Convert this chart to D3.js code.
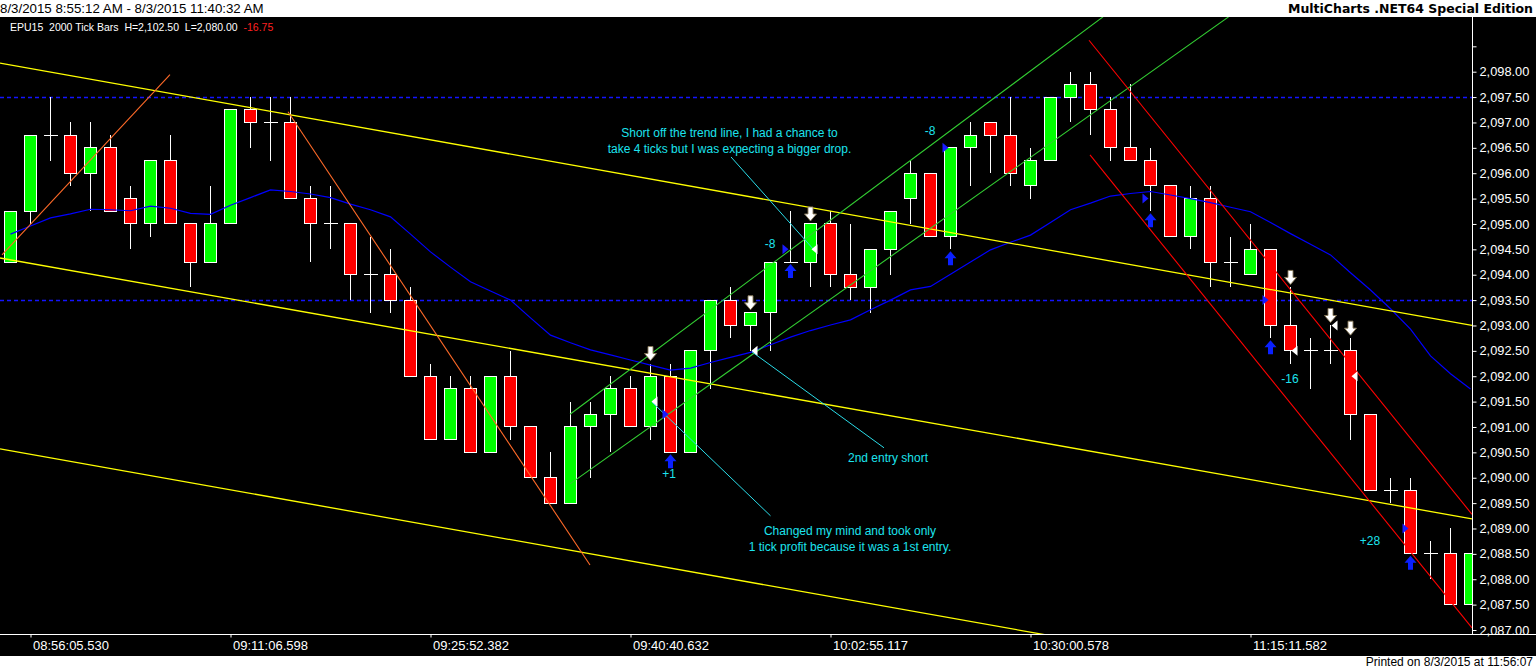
<!DOCTYPE html>
<html>
<head>
<meta charset="utf-8">
<script src="https://cdn.jsdelivr.net/npm/d3@7/dist/d3.min.js"></script>
<style>
  html, body { margin: 0; padding: 0; background: #fff; overflow: hidden; }
  svg { display: block; }
  text { font-family: 'Liberation Sans', Arial, sans-serif; }
</style>
</head>
<body>
<svg id="chart"></svg>
<script>
'use strict'

const W = 1536, H = 670
const plot = { left: 0, right: 1472, top: 17, bottom: 634 }

// time axis: bar index of each tick and its label
const timeTicks = [1, 11, 21, 31, 41, 51, 62]
const timeLabels = ['08:56:05.530', '09:11:06.598', '09:25:52.382', '09:40:40.632',
  '10:02:55.117', '10:30:00.578', '11:15:11.582']

// 2000 tick bars, EPU15
const open = [
  2094.25, 2095.25, 2096.75, 2096.75, 2096.0, 2096.5, 2095.5, 2095.0, 2096.25, 2095.0,
  2094.25, 2095.0, 2097.25, 2097.0, 2097.0, 2095.5, 2095.0, 2095.0, 2094.0, 2094.0,
  2093.5, 2092.0, 2090.75, 2091.75, 2090.5, 2092.0, 2091.0, 2090.0, 2089.5, 2091.0,
  2091.25, 2091.75, 2091.0, 2092.0, 2090.5, 2092.5, 2093.5, 2093.0, 2093.25, 2094.25,
  2094.25, 2095.0, 2094.0, 2093.75, 2094.5, 2095.5, 2096.0, 2094.75, 2096.5, 2097.0,
  2096.75, 2095.75, 2096.25, 2097.5, 2097.75, 2097.25, 2096.5, 2096.25, 2095.75, 2094.75,
  2095.5, 2094.25, 2094.0, 2094.5, 2093.0, 2092.5, 2092.5, 2092.5, 2091.25, 2089.75,
  2089.75, 2088.5, 2088.5, 2087.5
]
const high = [
  2095.25, 2096.75, 2097.5, 2097.0, 2097.0, 2096.75, 2095.75, 2096.25, 2096.75, 2095.0,
  2095.75, 2097.25, 2097.5, 2097.5, 2097.5, 2095.75, 2095.75, 2095.0, 2094.75, 2094.5,
  2093.75, 2092.25, 2092.0, 2092.0, 2092.0, 2092.5, 2091.0, 2090.5, 2091.5, 2091.5,
  2092.0, 2092.0, 2092.25, 2092.25, 2092.5, 2093.5, 2093.75, 2093.25, 2094.25, 2095.25,
  2095.0, 2095.25, 2095.0, 2094.5, 2095.25, 2096.25, 2096.0, 2096.5, 2097.0, 2097.0,
  2097.5, 2096.5, 2097.5, 2098.0, 2098.0, 2097.5, 2097.75, 2096.5, 2095.75, 2095.75,
  2095.75, 2094.75, 2095.0, 2094.5, 2093.75, 2092.75, 2093.0, 2092.75, 2091.25, 2090.0,
  2090.0, 2088.75, 2089.0, 2088.5
]
const low = [
  2094.25, 2095.0, 2096.25, 2095.75, 2095.25, 2095.25, 2094.5, 2094.75, 2095.0, 2093.75,
  2094.25, 2095.0, 2096.5, 2096.25, 2095.5, 2094.25, 2094.5, 2093.5, 2093.25, 2093.25,
  2092.0, 2090.75, 2090.75, 2090.5, 2090.5, 2090.75, 2090.0, 2089.5, 2089.5, 2090.0,
  2090.5, 2091.0, 2090.75, 2090.5, 2090.5, 2091.75, 2092.75, 2092.5, 2092.5, 2094.25,
  2093.75, 2093.75, 2093.5, 2093.25, 2094.0, 2095.0, 2094.75, 2094.5, 2095.75, 2096.0,
  2095.75, 2095.5, 2096.25, 2097.0, 2096.75, 2096.25, 2096.25, 2095.25, 2094.75, 2094.5,
  2093.75, 2093.75, 2094.0, 2092.75, 2092.25, 2091.75, 2092.25, 2090.75, 2089.75, 2089.5,
  2088.5, 2088.0, 2087.5, 2087.5
]
const close = [
  2095.25, 2096.75, 2096.75, 2096.0, 2096.5, 2095.25, 2095.0, 2096.25, 2095.0, 2094.25,
  2095.0, 2097.25, 2097.0, 2097.0, 2095.5, 2095.0, 2095.0, 2094.0, 2094.0, 2093.5,
  2092.0, 2090.75, 2091.75, 2090.5, 2092.0, 2091.0, 2090.0, 2089.5, 2091.0, 2091.25,
  2091.75, 2091.0, 2092.0, 2090.5, 2092.5, 2093.5, 2093.0, 2093.25, 2094.25, 2094.25,
  2095.0, 2094.0, 2093.75, 2094.5, 2095.25, 2096.0, 2094.75, 2096.5, 2096.75, 2096.75,
  2096.0, 2096.25, 2097.5, 2097.75, 2097.25, 2096.5, 2096.25, 2095.75, 2094.75, 2095.5,
  2094.25, 2094.25, 2094.5, 2093.0, 2092.5, 2092.5, 2092.5, 2091.25, 2089.75, 2089.75,
  2088.5, 2088.5, 2087.5, 2088.5
]

// moving average (blue)
const ma = [
  2094.80, 2094.96, 2095.12, 2095.20, 2095.29, 2095.28, 2095.26, 2095.35, 2095.31, 2095.21,
  2095.19, 2095.37, 2095.52, 2095.67, 2095.64, 2095.59, 2095.52, 2095.39, 2095.28, 2095.14,
  2094.80, 2094.45, 2094.15, 2093.86, 2093.68, 2093.50, 2093.15, 2092.81, 2092.66, 2092.52,
  2092.42, 2092.32, 2092.22, 2092.12, 2092.16, 2092.27, 2092.37, 2092.47, 2092.62, 2092.77,
  2092.90, 2093.01, 2093.11, 2093.31, 2093.50, 2093.70, 2093.77, 2094.01, 2094.25, 2094.49,
  2094.64, 2094.78, 2095.03, 2095.28, 2095.41, 2095.55, 2095.60, 2095.64, 2095.57, 2095.50,
  2095.42, 2095.33, 2095.24, 2095.03, 2094.81, 2094.60, 2094.39, 2094.04, 2093.70, 2093.33,
  2092.93, 2092.40, 2092.05, 2091.75
]

// dashed horizontal price levels
const levels = [2097.5, 2093.5]

// trend lines as [bar, price] end points
const yellowLines = [
  [[-0.525, 2098.17], [73.075, 2093.00]],
  [[-0.525, 2094.33], [73.075, 2089.19]],
  [[-0.525, 2090.57], [73.075, 2085.41]]
]
const orangeLines = [
  [[-0.425, 2094.39], [7.975, 2097.94]],
  [[13.875, 2097.21], [28.975, 2088.28]]
]
const greenLines = [
  [[27.975, 2091.25], [54.625, 2099.08]],
  [[27.975, 2089.88], [60.905, 2099.08]]
]
const redLines = [
  [[53.925, 2098.62], [73.075, 2089.28]],
  [[53.975, 2096.36], [73.075, 2087.04]]
]
const noteLines = [
  [[36.025, 2096.32], [40.125, 2094.51]],
  [[37.075, 2092.48], [43.675, 2090.59]],
  [[32.075, 2091.49], [38.0, 2089.25]]
]

// trade markers
const buyBars = [33, 39, 47, 57, 63, 70]
const entryPrices = [2091.25, 2094.5, 2096.5, 2095.5, 2093.5, 2089.0]
const sellBars = [32, 37, 40, 64, 66, 67]
const exitPrices = [2091.5, 2092.5, 2094.5, 2092.5, 2093.0, 2092.0]

// text notes: bar, price, lines
const notes = [
  { bar: 35.95, price: 2096.79, lines: ['Short off the trend line, I had a chance to', 'take 4 ticks but I was expecting a bigger drop.'] },
  { bar: 43.875, price: 2090.39, lines: ['2nd entry short'] },
  { bar: 41.975, price: 2088.95, lines: ['Changed my mind and took only', '1 tick profit because it was a 1st entry.'] }
]
const pnlLabels = [
  { bar: 32.925, price: 2090.07, text: '+1' },
  { bar: 37.975, price: 2094.60, text: '-8' },
  { bar: 45.975, price: 2096.83, text: '-8' },
  { bar: 63.975, price: 2091.95, text: '-16' },
  { bar: 67.975, price: 2088.75, text: '+28' }
]

const svg = d3.select('#chart').attr('width', W).attr('height', H)

svg.append('rect').attr('width', W).attr('height', H).attr('fill', '#fff')
svg.append('rect')
  .attr('x', 0).attr('y', plot.top)
  .attr('width', W).attr('height', 656 - plot.top)
  .attr('fill', '#000')

// scales
const x = d3.scaleLinear().domain([0, 73]).range([10.5, 1470.5])
const y = d3.scaleLinear().domain([2087, 2098]).range([630, 71.7])

svg.append('clipPath').attr('id', 'plotclip')
  .append('rect')
  .attr('x', plot.left).attr('y', plot.top)
  .attr('width', plot.right - plot.left).attr('height', plot.bottom - plot.top)

const g = svg.append('g').attr('clip-path', 'url(#plotclip)')

// dashed levels
g.selectAll('line.level')
  .data(levels)
  .enter()
  .append('line')
  .attr('class', 'level')
  .attr('x1', plot.left).attr('x2', plot.right)
  .attr('y1', d => Math.round(y(d)) + 0.5).attr('y2', d => Math.round(y(d)) + 0.5)
  .attr('stroke', '#1414FF')
  .attr('stroke-width', 1.4)
  .attr('stroke-dasharray', '4,3')

// candles
const bars = d3.range(open.length)

const candle = g.append('g')
  .selectAll('g')
  .data(bars)
  .enter()
  .append('g')
  .attr('shape-rendering', 'crispEdges')

candle.append('line')
  .attr('x1', i => x(i)).attr('x2', i => x(i))
  .attr('y1', i => y(high[i])).attr('y2', i => y(low[i]))
  .attr('stroke', '#fff')

candle.filter(i => open[i] !== close[i])
  .append('rect')
  .attr('x', i => x(i) - 6)
  .attr('width', 12)
  .attr('y', i => y(Math.max(open[i], close[i])))
  .attr('height', i => y(Math.min(open[i], close[i])) - y(Math.max(open[i], close[i])))
  .attr('fill', i => close[i] > open[i] ? '#00FF00' : '#FF0000')
  .attr('stroke', '#fff')

candle.filter(i => open[i] === close[i])
  .append('line')
  .attr('x1', i => x(i) - 7).attr('x2', i => x(i) + 7)
  .attr('y1', i => y(close[i])).attr('y2', i => y(close[i]))
  .attr('stroke', '#fff')

// moving average
g.append('path')
  .datum(ma)
  .attr('d', d3.line().x((d, i) => x(i)).y(d => y(d)))
  .attr('fill', 'none')
  .attr('stroke', '#0000FF')
  .attr('stroke-width', 1.2)

// trend lines
function drawLines(list, color, width) {
  g.append('g')
    .selectAll('line')
    .data(list)
    .enter()
    .append('line')
    .attr('x1', d => x(d[0][0])).attr('y1', d => y(d[0][1]))
    .attr('x2', d => x(d[1][0])).attr('y2', d => y(d[1][1]))
    .attr('stroke', color)
    .attr('stroke-width', width)
}
drawLines(yellowLines, '#FFFF00', 1.3)
drawLines(orangeLines, '#FF6A28', 1.1)
drawLines(greenLines, '#32CD32', 1.1)
drawLines(redLines, '#FF0000', 1.1)
drawLines(noteLines, '#2ADCE8', 1)

// markers
const upArrow = 'M0,-7L6,0L2.5,0L2.5,7L-2.5,7L-2.5,0L-6,0Z'
const downArrow = 'M0,7L6,0L2.5,0L2.5,-7L-2.5,-7L-2.5,0L-6,0Z'

g.selectAll('path.buy')
  .data(buyBars)
  .enter()
  .append('path')
  .attr('class', 'buy')
  .attr('d', upArrow)
  .attr('transform', i => 'translate(' + x(i) + ',' + (y(low[i]) + 9) + ')')
  .attr('fill', '#0A20FF')

g.selectAll('path.sell')
  .data(sellBars)
  .enter()
  .append('path')
  .attr('class', 'sell')
  .attr('d', downArrow)
  .attr('transform', i => 'translate(' + x(i) + ',' + (y(high[i]) - 10) + ')')
  .attr('fill', '#fff')
  .attr('stroke', '#8a7a5a')
  .attr('stroke-width', 0.9)

g.selectAll('path.entry')
  .data(buyBars)
  .enter()
  .append('path')
  .attr('class', 'entry')
  .attr('d', 'M-8,-5L-2,0L-8,5Z')
  .attr('transform', (i, k) => 'translate(' + x(i) + ',' + y(entryPrices[k]) + ')')
  .attr('fill', '#1A1AFF')

g.selectAll('path.exit')
  .data(sellBars)
  .enter()
  .append('path')
  .attr('class', 'exit')
  .attr('d', 'M1,0L7,-5L7,5Z')
  .attr('transform', (i, k) => 'translate(' + x(i) + ',' + y(exitPrices[k]) + ')')
  .attr('fill', '#fff')

// notes
const cyan = '#1CE3EE'
notes.forEach(n => {
  const t = g.append('text')
    .attr('x', x(n.bar))
    .attr('y', y(n.price) + 4)
    .attr('text-anchor', 'middle')
    .attr('fill', cyan)
    .style('font-size', '12px')
  n.lines.forEach((line, k) => {
    t.append('tspan').attr('x', x(n.bar)).attr('dy', k === 0 ? 0 : 16).text(line)
  })
})

g.selectAll('text.pnl')
  .data(pnlLabels)
  .enter()
  .append('text')
  .attr('class', 'pnl')
  .attr('x', d => x(d.bar))
  .attr('y', d => y(d.price) + 4)
  .attr('text-anchor', 'middle')
  .attr('fill', cyan)
  .style('font-size', '12px')
  .text(d => d.text)

// price axis
const fmt = d3.format(',.2f')
const yAxis = svg.append('g')
  .attr('transform', 'translate(' + (plot.right + 0.5) + ',0)')
  .call(d3.axisRight(y)
    .tickValues(d3.range(2087, 2098.51, 0.5))
    .tickSize(4)
    .tickPadding(3)
    .tickFormat(d => d > 2098.2 ? '' : fmt(d)))
yAxis.select('.domain').remove()
yAxis.selectAll('line').attr('stroke', '#fff')
yAxis.selectAll('text')
  .attr('fill', '#fff')
  .style('font-size', '12.8px')
  .style('font-family', "'Liberation Sans', Arial, sans-serif")

svg.append('line')
  .attr('x1', plot.right + 0.5).attr('x2', plot.right + 0.5)
  .attr('y1', plot.top).attr('y2', plot.bottom)
  .attr('stroke', '#fff')

// time axis
const xAxis = svg.append('g')
  .attr('transform', 'translate(0,' + (plot.bottom + 0.5) + ')')
  .call(d3.axisBottom(x)
    .tickValues(timeTicks)
    .tickSize(3)
    .tickPadding(3)
    .tickFormat((d, i) => timeLabels[i]))
xAxis.select('.domain').remove()
xAxis.selectAll('line').attr('stroke', '#fff')
xAxis.selectAll('text')
  .attr('fill', '#fff')
  .attr('text-anchor', 'start')
  .attr('x', 2)
  .style('font-size', '13px')
  .style('font-family', "'Liberation Sans', Arial, sans-serif")

svg.append('line')
  .attr('x1', 0).attr('x2', W)
  .attr('y1', plot.bottom + 0.5).attr('y2', plot.bottom + 0.5)
  .attr('stroke', '#fff')

// header, legend, footer
svg.append('text')
  .attr('x', 0).attr('y', 13)
  .attr('fill', '#000')
  .style('font-size', '13.3px')
  .text('8/3/2015 8:55:12 AM - 8/3/2015 11:40:32 AM')

svg.append('text')
  .attr('x', W - 3).attr('y', 13)
  .attr('text-anchor', 'end')
  .attr('fill', '#000')
  .style('font-size', '12.5px')
  .style('font-weight', 'bold')
  .style('font-family', "'DejaVu Sans', sans-serif")
  .text('MultiCharts .NET64 Special Edition')

const legend = svg.append('text')
  .attr('x', 10).attr('y', 31)
  .style('font-size', '10.5px')
  .style('white-space', 'pre')
legend.append('tspan').attr('fill', '#fff').text('EPU15  2000 Tick Bars  H=2,102.50  L=2,080.00  ')
legend.append('tspan').attr('fill', '#FF2020').text('-16.75')

svg.append('text')
  .attr('x', W - 3).attr('y', 666)
  .attr('text-anchor', 'end')
  .attr('fill', '#000')
  .style('font-size', '12px')
  .text('Printed on 8/3/2015 at 11:56:07')
</script>
</body>
</html>
